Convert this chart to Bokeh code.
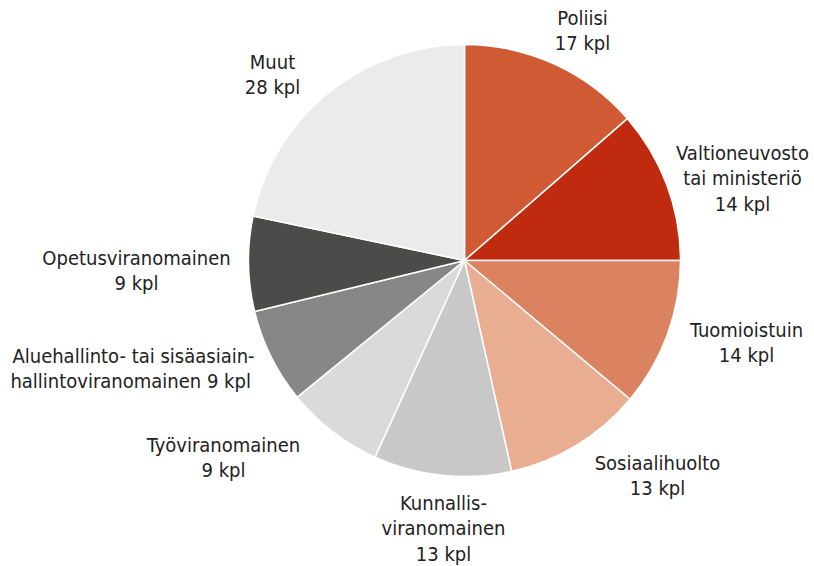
import math
from bokeh.plotting import figure
from bokeh.models import Range1d, ColumnDataSource
from bokeh.core.properties import value
from bokeh.embed import file_html
from bokeh.resources import INLINE

# Data
categories = ["Poliisi", "Valtioneuvosto tai ministeriö", "Tuomioistuin", "Sosiaalihuolto",
              "Kunnallisviranomainen", "Työviranomainen",
              "Aluehallinto- tai sisäasiainhallintoviranomainen", "Opetusviranomainen", "Muut"]
counts = [17, 14, 14, 13, 13, 9, 9, 9, 28]
# slice shares (%) as drawn in the picture
shares = [13.6, 11.4, 11.1, 10.4, 10.3, 7.3, 7.1, 7.1, 21.7]
colors = ["#D05A34", "#C02B10", "#DB8360", "#E9AE92", "#C8C8C8", "#DADADA", "#878787", "#4B4B49", "#EBEBEB"]
label_lines = [
    ["Poliisi", "17 kpl"],
    ["Valtioneuvosto", "tai ministeriö", "14 kpl"],
    ["Tuomioistuin", "14 kpl"],
    ["Sosiaalihuolto", "13 kpl"],
    ["Kunnallis-", "viranomainen", "13 kpl"],
    ["Työviranomainen", "9 kpl"],
    ["Aluehallinto- tai sisäasiain-", "hallintoviranomainen  9 kpl"],
    ["Opetusviranomainen", "9 kpl"],
    ["Muut", "28 kpl"],
]

# Layout (pixel coordinates, y from top)
W, H = 814, 566
cx, cy, R = 464, 260, 216
label_pos = [(582, 17), (742, 152), (746, 329), (657, 462), (443, 502),
             (223, 444), (133, 355), (136, 257), (272, 61)]
line_h = 25.5

p = figure(width=W, height=H, x_range=Range1d(0, W), y_range=Range1d(0, H),
           output_backend="svg", toolbar_location=None, min_border=0)
p.axis.visible = False
p.grid.visible = False
p.outline_line_color = None
p.background_fill_color = "white"

total = sum(shares)
starts, ends = [], []
acc = 0
for c in shares:
    a0 = math.pi / 2 - 2 * math.pi * acc / total
    acc += c
    a1 = math.pi / 2 - 2 * math.pi * acc / total
    starts.append(a0)
    ends.append(a1)

src = ColumnDataSource(dict(start=starts, end=ends, color=colors))
p.wedge(x=cx, y=H - cy, radius=R, start_angle="start", end_angle="end",
        direction="clock", fill_color="color", line_color="white", line_width=1.5,
        source=src)

tx, ty, tt = [], [], []
for (x0, y0), lines in zip(label_pos, label_lines):
    for i, t in enumerate(lines):
        tx.append(x0)
        ty.append(H - (y0 + i * line_h))
        tt.append(t)

p.text(x=tx, y=ty, text=tt, text_align="center", text_baseline="middle",
       text_font=value("DejaVu Sans Condensed"), text_font_size="20px", text_color="#222222")

open("out.html", "w").write(file_html(p, INLINE))
